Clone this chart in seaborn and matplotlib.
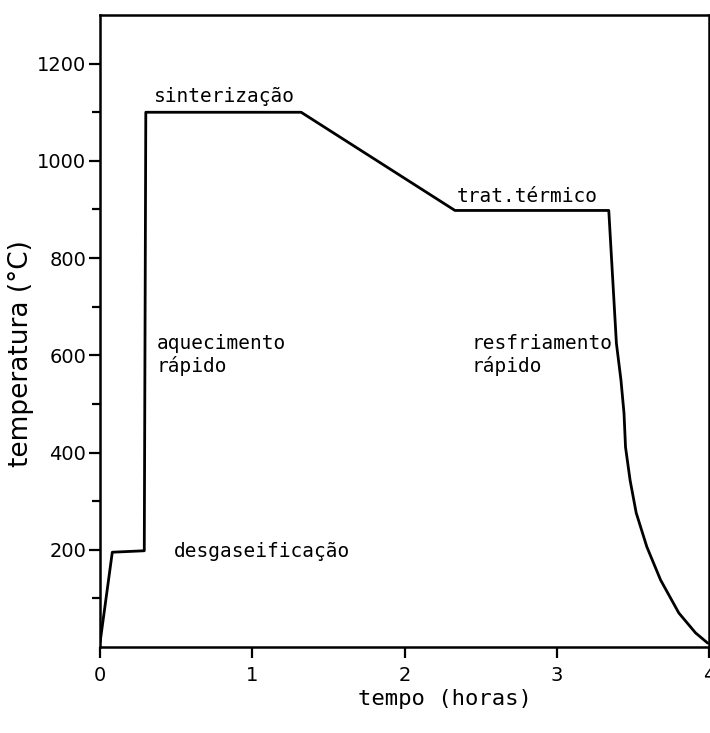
import matplotlib
matplotlib.use("Agg")
import matplotlib.pyplot as plt
import seaborn as sns
import pandas as pd

# Data
tempo_h = [0.00, 0.08, 0.29, 0.30, 1.32, 2.33, 3.34, 3.39, 3.42, 3.44, 3.45, 3.48,
           3.52, 3.59, 3.68, 3.80, 3.91, 3.99]
temperatura_c = [10, 195, 198, 1100, 1100, 898, 898, 625, 549, 481, 411, 343,
                 276, 206, 138, 70, 29, 8]
x_ticks = [0, 1, 2, 3, 4]
y_major = [200, 400, 600, 800, 1000, 1200]
y_minor = [100, 300, 500, 700, 900, 1100]

annot_text = ["sinterização", "aquecimento\nrápido", "desgaseificação", "trat.térmico", "resfriamento\nrápido"]
annot_x = [0.355, 0.37, 0.485, 2.34, 2.44]
annot_y = [1133, 600, 197, 926, 600]

sns.set_style("ticks")
plt.rcParams["font.family"] = ["DejaVu Sans"]

fig = plt.figure(figsize=(7.10, 7.33), dpi=100)
ax = fig.add_axes([0.141, 0.1173, 0.858, 0.8622])

df = pd.DataFrame({"tempo": tempo_h, "temp": temperatura_c})
sns.lineplot(data=df, x="tempo", y="temp", ax=ax, color="black", linewidth=2.0, sort=False)

ax.set_xlim(0, 4)
ax.set_ylim(0, 1300)
ax.set_xticks(x_ticks)
ax.set_xticklabels([str(v) for v in x_ticks], fontsize=14)
ax.set_yticks(y_major)
ax.set_yticklabels([str(v) for v in y_major], fontsize=14)
ax.set_yticks(y_minor, minor=True)
ax.tick_params(axis="y", which="major", direction="out", length=8, width=1.6, color="black",
               labelcolor="black", pad=2)
ax.tick_params(axis="x", which="major", direction="out", length=8, width=1.6, color="black",
               labelcolor="black", pad=6)
ax.tick_params(axis="y", which="minor", direction="out", length=6, width=1.6, color="black")
for s in ax.spines.values():
    s.set_visible(True)
    s.set_linewidth(1.8)
    s.set_color("black")

ax.set_xlabel("tempo (horas)", fontsize=16, family=["DejaVu Sans Mono"], color="black")
ax.xaxis.set_label_coords(0.566, -0.066)
ax.set_ylabel("temperatura (°C)", fontsize=19, color="black")
ax.yaxis.set_label_coords(-0.108, 0.465)

for txt, x, y in zip(annot_text, annot_x, annot_y):
    ax.text(x, y, txt, fontsize=14, family=["DejaVu Sans Mono"], ha="left", va="center",
            linespacing=1.2, color="black")

fig.savefig("out.png", dpi=100, facecolor="white")
